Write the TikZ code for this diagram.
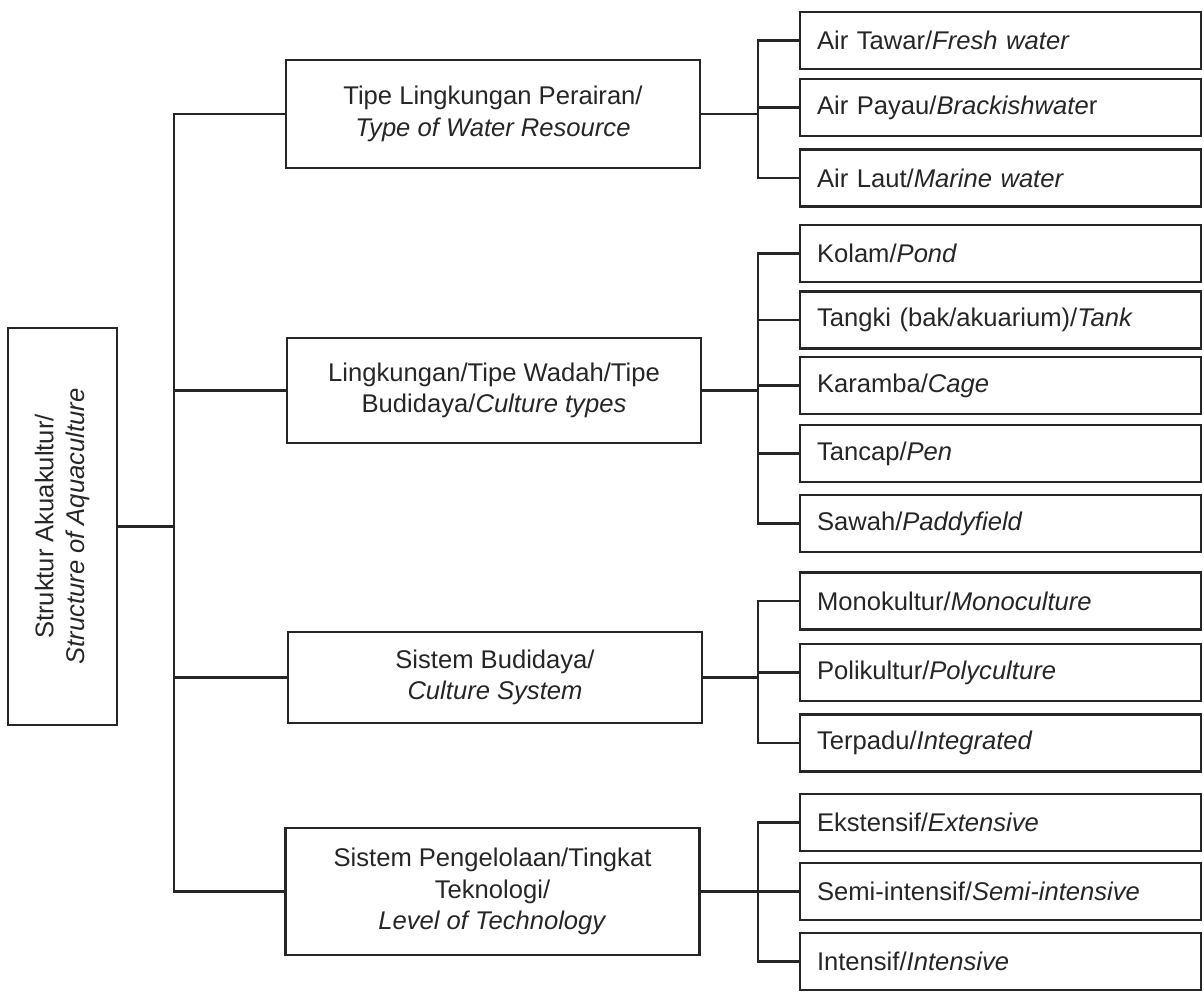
\documentclass[tikz,border=0pt]{standalone}
\usepackage{fontspec}
\setmainfont{Liberation Sans}

\begin{document}
\begin{tikzpicture}[
  x=0.5pt, y=-0.5pt,
  line width=1.1pt, draw=black!85,
  every node/.style={font=\fontsize{12.8}{15.8}\selectfont, text=black!85},
  rootbox/.style={draw, rotate=90, minimum width=198.5pt, minimum height=54.5pt, align=center},
  catbox/.style={draw, minimum width=207pt, align=center},
  leafbox/.style={draw, text width=183.5pt, inner xsep=8.5pt, minimum height=28.5pt, align=left}
]
\useasboundingbox (0,0) rectangle (1204,991);

% root (rotated, so its right side is .south)
\node[rootbox] (root) at (62.5,526.5) {Struktur Akuakultur/\\\textit{Structure of Aquaculture}};

\node[catbox, minimum height=54pt] (water) at (493,114) {Tipe Lingkungan Perairan/\\\textit{Type of Water Resource}};
\node[catbox, minimum height=52.5pt] (types) at (494,390.5) {Lingkungan/Tipe Wadah/Tipe\\Budidaya/\textit{Culture types}};
\node[catbox, minimum height=45.5pt] (system) at (495,677.5) {Sistem Budidaya/\\\textit{Culture System}};
\node[catbox, minimum height=63.5pt] (tech) at (492.5,891.5) {Sistem Pengelolaan/Tingkat\\Teknologi/\\\textit{Level of Technology}};

\node[leafbox] (fresh) at (1000.5,40.5) {Air Tawar/\textit{Fresh water}};
\node[leafbox] (brackish) at (1000.5,107.5) {Air Payau/\textit{Brackishwate}r};
\node[leafbox] (marine) at (1000.5,178) {Air Laut/\textit{Marine water}};

\node[leafbox] (pond) at (1000.5,253.5) {Kolam/\textit{Pond}};
\node[leafbox] (tank) at (1000.5,320) {Tangki (bak/akuarium)/\textit{Tank}};
\node[leafbox] (cage) at (1000.5,385.5) {Karamba/\textit{Cage}};
\node[leafbox] (pen) at (1000.5,453.5) {Tancap/\textit{Pen}};
\node[leafbox] (paddy) at (1000.5,523.5) {Sawah/\textit{Paddyfield}};

\node[leafbox] (mono) at (1000.5,601) {Monokultur/\textit{Monoculture}};
\node[leafbox] (poly) at (1000.5,672.5) {Polikultur/\textit{Polyculture}};
\node[leafbox] (integ) at (1000.5,743) {Terpadu/\textit{Integrated}};

\node[leafbox] (ext) at (1000.5,822.5) {Ekstensif/\textit{Extensive}};
\node[leafbox] (semi) at (1000.5,891.5) {Semi-intensif/\textit{Semi-intensive}};
\node[leafbox] (int) at (1000.5,961.5) {Intensif/\textit{Intensive}};

% trunk
\coordinate (trunk) at (174,526.5);
\draw (root.south) -- (trunk);
\draw (water.west) -| (trunk);
\draw (types.west) -- (types.west -| trunk);
\draw (system.west) -- (system.west -| trunk);
\draw (tech.west) -| (trunk);

% branches
\coordinate (hubA) at (758,114);
\draw (water.east) -- (hubA);
\draw (fresh.west) -| (hubA);
\draw (brackish.west) -- (brackish.west -| hubA);
\draw (marine.west) -| (hubA);

\coordinate (hubB) at (758,390.5);
\draw (types.east) -- (hubB);
\draw (pond.west) -| (hubB);
\draw (tank.west) -- (tank.west -| hubB);
\draw (cage.west) -- (cage.west -| hubB);
\draw (pen.west) -- (pen.west -| hubB);
\draw (paddy.west) -| (hubB);

\coordinate (hubC) at (758,677.5);
\draw (system.east) -- (hubC);
\draw (mono.west) -| (hubC);
\draw (poly.west) -- (poly.west -| hubC);
\draw (integ.west) -| (hubC);

\coordinate (hubD) at (758,891.5);
\draw (tech.east) -- (hubD);
\draw (ext.west) -| (hubD);
\draw (semi.west) -- (semi.west -| hubD);
\draw (int.west) -| (hubD);
\end{tikzpicture}
\end{document}
